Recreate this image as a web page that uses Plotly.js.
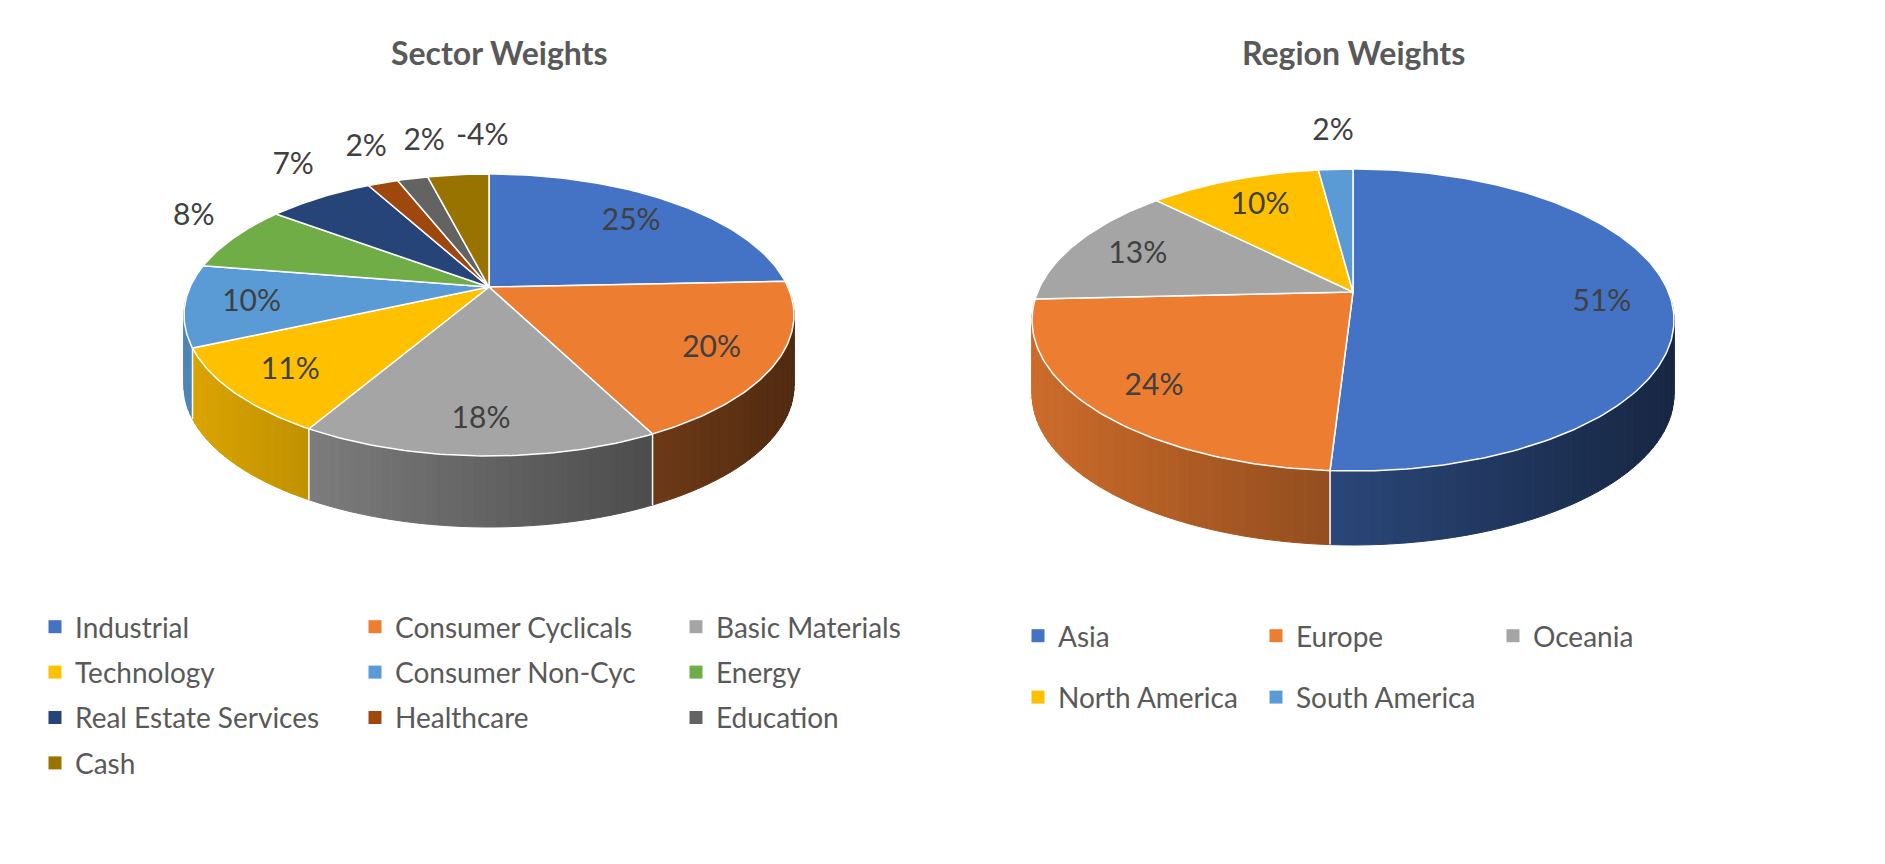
<!DOCTYPE html>
<html>
<head>
<meta charset="utf-8">
<script src="https://cdn.plot.ly/plotly-3.0.1.min.js"></script>
<style>
  html, body { margin: 0; padding: 0; background: #ffffff; }
  #chart { width: 1885px; height: 864px; }
</style>
</head>
<body>
<div id="chart"></div>
<script>
'use strict';

// ---- data ----
const sectorNames = ['Industrial', 'Consumer Cyclicals', 'Basic Materials', 'Technology', 'Consumer Non-Cyc',
                     'Energy', 'Real Estate Services', 'Healthcare', 'Education', 'Cash'];
const sectorValues = [25, 20, 18, 11, 10, 8, 7, 2, 2, -4];
const sectorColors = ['#4472C4', '#ED7D31', '#A5A5A5', '#FFC000', '#5B9BD5',
                      '#70AD47', '#264478', '#9E480E', '#636363', '#997300'];
const sectorLegendCols = [[0, 3, 6, 9], [1, 4, 7], [2, 5, 8]];

const regionNames = ['Asia', 'Europe', 'Oceania', 'North America', 'South America'];
const regionValues = [51, 24, 13, 10, 2];
const regionColors = ['#4472C4', '#ED7D31', '#A5A5A5', '#FFC000', '#5B9BD5'];
const regionLegendCols = [[0, 3], [1, 4], [2]];

// ---- page geometry ----
const W = 1885, H = 864;
const FONT = 'Lato, "Open Sans", sans-serif';
const WARP = 8;   // degrees, fake perspective squeeze of the far half

const pies = [
    {title: 'Sector Weights', names: sectorNames, values: sectorValues, colors: sectorColors, cols: sectorLegendCols,
     cx: 489, cy: 315, a: 305, b: 141, depth: 71, lift: 28, titleX: 499,
     legendX: [35, 355, 676], legendTop: 602, legendGap: 6},
    {title: 'Region Weights', names: regionNames, values: regionValues, colors: regionColors, cols: regionLegendCols,
     cx: 1353, cy: 320, a: 321, b: 151, depth: 74, lift: 28, titleX: 1353,
     legendX: [1018, 1256, 1493], legendTop: 611, legendGap: 22}
];

function rad(d) { return d * Math.PI / 180; }

function warp(t) { return t - WARP * Math.sin(rad(t)); }

function rim(p, t) {
    const f = rad(warp(t));
    return [p.cx + p.a * Math.sin(f), p.cy - p.b * Math.cos(f)];
}

function arc(p, t0, t1, step) {
    const n = Math.max(2, Math.ceil((t1 - t0) / step));
    const pts = [];
    for (let i = 0; i <= n; i++) pts.push(rim(p, t0 + (t1 - t0) * i / n));
    return pts;
}

function shade(hex, k) {
    const n = parseInt(hex.slice(1), 16);
    const r = Math.round(((n >> 16) & 255) * k);
    const g = Math.round(((n >> 8) & 255) * k);
    const b = Math.round((n & 255) * k);
    return 'rgb(' + r + ',' + g + ',' + b + ')';
}

const sides = [], edges = [], tops = [], labels = [], legendTraces = [];
const annotations = [];
const layoutLegends = {};
let legendCount = 0;

pies.forEach(function(p) {
    const absSum = p.values.reduce((s, v) => s + Math.abs(v), 0);
    let acc = 0;
    const spans = p.values.map(function(v) {
        const t0 = acc;
        acc += Math.abs(v) / absSum * 360;
        return [t0, acc];
    });

    const edgeX = [], edgeY = [];
    spans.forEach(function(sp, i) {
        // side wall, only the front half shows
        const s0 = Math.max(sp[0], 90), s1 = Math.min(sp[1], 270);
        if (s1 > s0) {
            const n = Math.max(1, Math.ceil((s1 - s0) / 2));
            for (let k = 0; k < n; k++) {
                const u0 = s0 + (s1 - s0) * k / n, u1 = s0 + (s1 - s0) * (k + 1) / n;
                const upper = arc(p, u0, u1, 1);
                const lower = upper.map(q => [q[0], q[1] + p.depth]).reverse();
                const poly = upper.concat(lower);
                poly.push(upper[0]);
                const light = 0.6 - 0.26 * Math.sin(rad(warp((u0 + u1) / 2)));
                const col = shade(p.colors[i], light);
                sides.push({
                    type: 'scatter', mode: 'lines', fill: 'toself',
                    x: poly.map(q => q[0]), y: poly.map(q => q[1]),
                    fillcolor: col, line: {color: col, width: 1},
                    showlegend: false, hoverinfo: 'skip'
                });
            }
        }
        if (sp[0] > 90 && sp[0] < 270) {
            const q = rim(p, sp[0]);
            edgeX.push(q[0], q[0], null);
            edgeY.push(q[1], q[1] + p.depth, null);
        }

        // top face
        const apex = [p.cx, p.cy - p.lift];
        const pts = [apex].concat(arc(p, sp[0], sp[1], 1));
        pts.push(apex);
        tops.push({
            type: 'scatter', mode: 'lines', fill: 'toself',
            x: pts.map(q => q[0]), y: pts.map(q => q[1]),
            fillcolor: p.colors[i], line: {color: '#ffffff', width: 1.5},
            showlegend: false, hoverinfo: 'skip'
        });
    });
    edges.push({
        type: 'scatter', mode: 'lines', x: edgeX, y: edgeY,
        line: {color: '#ffffff', width: 1.5}, showlegend: false, hoverinfo: 'skip'
    });

    // data labels
    const lx = [], ly = [], lt = [];
    const outside = [];
    spans.forEach(function(sp, i) {
        const mid = (sp[0] + sp[1]) / 2;
        const f = rad(warp(mid));
        const frac = (sp[1] - sp[0]) / 360;
        if (frac >= 0.085) {
            lx.push(p.cx + 0.78 * p.a * Math.sin(f));
            ly.push(p.cy - 4 - 0.78 * p.b * Math.cos(f));
            lt.push(p.values[i] + '%');
        } else {
            const q = rim(p, mid);
            outside.push({x: q[0] + 48 * Math.sin(f), y: q[1] - 37 * Math.cos(f), t: p.values[i] + '%'});
        }
    });
    outside.sort((m, n) => m.x - n.x);
    for (let k = 1; k < outside.length; k++) {
        if (outside[k].x - outside[k - 1].x < 58) outside[k].x = outside[k - 1].x + 58;
    }
    outside.forEach(function(o) { lx.push(o.x); ly.push(o.y); lt.push(o.t); });
    labels.push({
        type: 'scatter', mode: 'text', x: lx, y: ly, text: lt,
        textposition: 'middle center',
        textfont: {family: FONT, size: 30, color: '#404040'},
        showlegend: false, hoverinfo: 'skip'
    });

    annotations.push({
        x: p.titleX, y: 52, xref: 'x', yref: 'y', text: p.title, showarrow: false,
        xanchor: 'center', yanchor: 'middle',
        font: {family: FONT, size: 32, color: '#595959', weight: 'bold'}
    });

    // legend: one vertical legend per column
    p.cols.forEach(function(col, c) {
        legendCount++;
        const id = legendCount === 1 ? 'legend' : 'legend' + legendCount;
        col.forEach(function(i) {
            legendTraces.push({
                type: 'scatter', mode: 'markers', x: [null], y: [null],
                name: p.names[i], legend: id, legendgroup: p.names[i],
                marker: {symbol: 'square', size: 13, color: p.colors[i]},
                showlegend: true, hoverinfo: 'skip'
            });
        });
        layoutLegends[id] = {
            x: p.legendX[c] / W, y: 1 - p.legendTop / H,
            xanchor: 'left', yanchor: 'top', orientation: 'v',
            traceorder: 'grouped', tracegroupgap: p.legendGap,
            bgcolor: 'rgba(0,0,0,0)', borderwidth: 0,
            font: {family: FONT, size: 28, color: '#595959'}
        };
    });
});

const layout = Object.assign({
    width: W,
    height: H,
    margin: {l: 0, r: 0, t: 0, b: 0},
    paper_bgcolor: '#ffffff',
    plot_bgcolor: '#ffffff',
    showlegend: true,
    xaxis: {range: [0, W], visible: false, fixedrange: true},
    yaxis: {range: [H, 0], visible: false, fixedrange: true},
    annotations: annotations
}, layoutLegends);

Plotly.newPlot('chart', sides.concat(edges, tops, labels, legendTraces), layout,
    {staticPlot: true, displayModeBar: false});
</script>
</body>
</html>
